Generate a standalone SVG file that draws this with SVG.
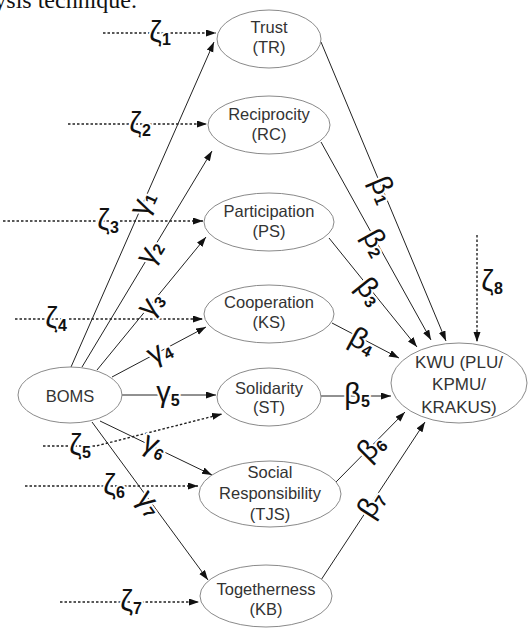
<svg xmlns="http://www.w3.org/2000/svg" width="528" height="630" viewBox="0 0 528 630">
<defs>
<marker id="ah" markerUnits="userSpaceOnUse" markerWidth="11" markerHeight="8" refX="10" refY="3.5" orient="auto">
<path d="M0,0 L10,3.5 L0,7 z" fill="#111"/>
</marker>
<style>
.node ellipse{fill:#fff;stroke:#8a8a8a;stroke-width:1}
.node text{font-family:"Liberation Sans",Arial,sans-serif;font-size:16.5px;fill:#333;text-anchor:middle}
.solid{stroke:#222;stroke-width:1;fill:none;marker-end:url(#ah)}
.dot{stroke:#222;stroke-width:1.4;fill:none;stroke-dasharray:2.5 2}
.dota{marker-end:url(#ah)}
.lbl{font-family:"Liberation Sans",Arial,sans-serif;font-size:29px;fill:#111;text-anchor:middle;stroke:#fff;stroke-width:4;paint-order:stroke;stroke-linejoin:round}
.sub{font-size:16px;font-weight:bold}
</style>
</defs>
<rect width="528" height="630" fill="#fff"/>
<text x="137" y="8" font-family="Liberation Serif,'Times New Roman',serif" font-size="24" text-anchor="end" fill="#111">analysis technique.</text>

<g id="connectors">
<path class="dot dota" d="M103,33 L216,33"/>
<path class="dot dota" d="M68,124 L207,124"/>
<path class="dot dota" d="M3,221 L203,221"/>
<path class="dot dota" d="M15,319 L203,319"/>
<path class="dot dota" d="M43,446 L96,446 L222,414"/>
<path class="dot dota" d="M25,486 L198,486"/>
<path class="dot dota" d="M60,602 L199,602"/>
<path class="dot dota" d="M477,235 L477,342"/>
<path class="solid" d="M71,367 L214,42"/>
<path class="solid" d="M82,367 L212,151"/>
<path class="solid" d="M97,370 L206,237"/>
<path class="solid" d="M112,377 L206,327"/>
<path class="solid" d="M122,395 L216,395"/>
<path class="solid" d="M100,421 L212,475"/>
<path class="solid" d="M92,422 L208,580"/>
<path class="solid" d="M321,42 L446,341"/>
<path class="solid" d="M321,142 L431,340"/>
<path class="solid" d="M329,238 L417,347"/>
<path class="solid" d="M332,323 L399,358"/>
<path class="solid" d="M321,396 L391,396"/>
<path class="solid" d="M336,482 L405,412"/>
<path class="solid" d="M321,580 L425,422"/>
<text class="lbl" x="160" y="42">ζ<tspan class="sub" dy="3">1</tspan></text>
<text class="lbl" x="140" y="133">ζ<tspan class="sub" dy="3">2</tspan></text>
<text class="lbl" x="108" y="230">ζ<tspan class="sub" dy="3">3</tspan></text>
<text class="lbl" x="56" y="328">ζ<tspan class="sub" dy="3">4</tspan></text>
<text class="lbl" x="80" y="455">ζ<tspan class="sub" dy="3">5</tspan></text>
<text class="lbl" x="114" y="495">ζ<tspan class="sub" dy="3">6</tspan></text>
<text class="lbl" x="131" y="611">ζ<tspan class="sub" dy="3">7</tspan></text>
<text class="lbl" x="492" y="291">ζ<tspan class="sub" dy="3">8</tspan></text>

<text class="lbl" transform="translate(144,204) rotate(-66)" y="7">γ<tspan class="sub" dy="3">1</tspan></text>
<text class="lbl" transform="translate(151,253) rotate(-59)" y="7">γ<tspan class="sub" dy="3">2</tspan></text>
<text class="lbl" transform="translate(152,305) rotate(-51)" y="7">γ<tspan class="sub" dy="3">3</tspan></text>
<text class="lbl" transform="translate(160,353) rotate(-28)" y="7">γ<tspan class="sub" dy="3">4</tspan></text>
<text class="lbl" x="168" y="402">γ<tspan class="sub" dy="4">5</tspan></text>
<text class="lbl" transform="translate(154,447) rotate(26)" y="7">γ<tspan class="sub" dy="3">6</tspan></text>
<text class="lbl" transform="translate(148,504) rotate(54)" y="7">γ<tspan class="sub" dy="3">7</tspan></text>

<text class="lbl" transform="translate(382,190) rotate(67)" y="8">β<tspan class="sub" dy="3">1</tspan></text>
<text class="lbl" transform="translate(375,243) rotate(61)" y="8">β<tspan class="sub" dy="3">2</tspan></text>
<text class="lbl" transform="translate(369,292) rotate(51)" y="8">β<tspan class="sub" dy="3">3</tspan></text>
<text class="lbl" transform="translate(362,342) rotate(28)" y="8">β<tspan class="sub" dy="3">4</tspan></text>
<text class="lbl" x="357" y="404">β<tspan class="sub" dy="3">5</tspan></text>
<text class="lbl" transform="translate(372,448) rotate(-45)" y="8">β<tspan class="sub" dy="3">6</tspan></text>
<text class="lbl" transform="translate(372,505) rotate(-57)" y="8">β<tspan class="sub" dy="3">7</tspan></text>
</g>

<g id="trust" class="node"><ellipse cx="269" cy="39" rx="52" ry="29"/><text x="269" y="33">Trust</text><text x="269" y="53">(TR)</text></g>
<g id="reciprocity" class="node"><ellipse cx="269" cy="125" rx="61" ry="29"/><text x="269" y="120">Reciprocity</text><text x="269" y="140">(RC)</text></g>
<g id="participation" class="node"><ellipse cx="269" cy="222" rx="65" ry="29"/><text x="269" y="217">Participation</text><text x="269" y="237">(PS)</text></g>
<g id="cooperation" class="node"><ellipse cx="269" cy="314" rx="65" ry="29"/><text x="269" y="308">Cooperation</text><text x="269" y="328">(KS)</text></g>
<g id="solidarity" class="node"><ellipse cx="269" cy="397" rx="52" ry="29"/><text x="269" y="394">Solidarity</text><text x="269" y="413">(ST)</text></g>
<g id="social" class="node"><ellipse cx="270" cy="494" rx="71" ry="33"/><text x="270" y="478">Social</text><text x="270" y="499">Responsibility</text><text x="270" y="520">(TJS)</text></g>
<g id="togetherness" class="node"><ellipse cx="266" cy="596" rx="66" ry="31"/><text x="266" y="595">Togetherness</text><text x="266" y="615">(KB)</text></g>
<g id="kwu" class="node"><ellipse cx="459" cy="383" rx="68" ry="40"/><text x="459" y="368" style="font-size:17px">KWU (PLU/</text><text x="459" y="390" style="font-size:17px">KPMU/</text><text x="459" y="413" style="font-size:17px">KRAKUS)</text></g>
<g id="boms" class="node"><ellipse cx="70" cy="395" rx="52" ry="28"/><text x="70" y="402">BOMS</text></g>
</svg>
